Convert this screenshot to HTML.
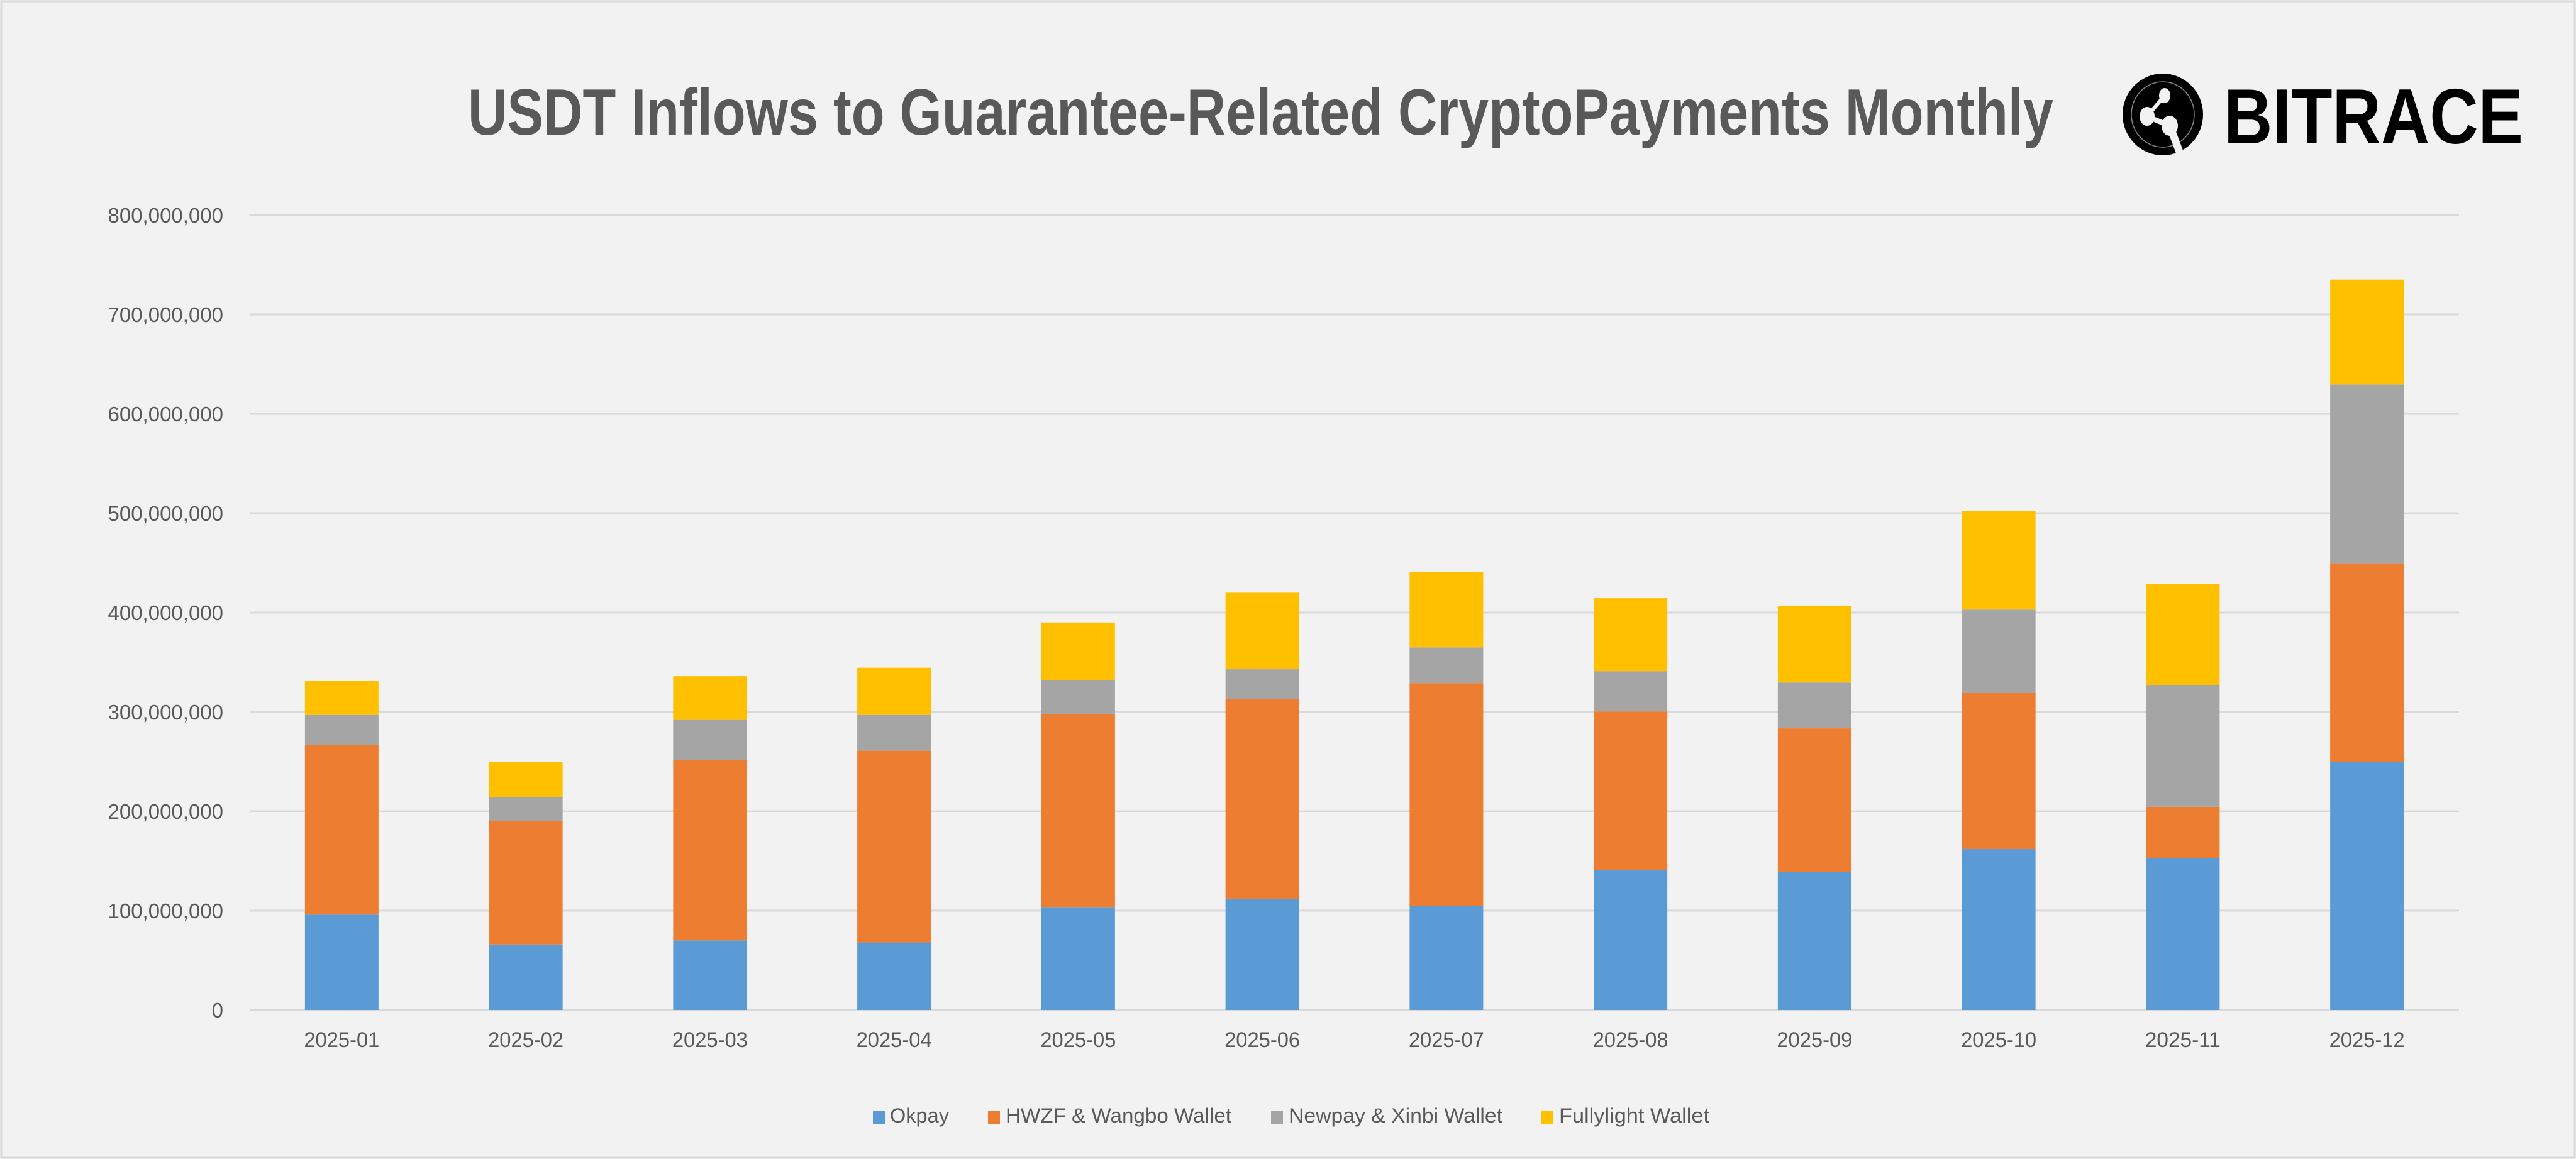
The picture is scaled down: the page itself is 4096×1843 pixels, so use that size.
<!DOCTYPE html>
<html><head><meta charset="utf-8"><style>
html,body{margin:0;padding:0;background:#f2f2f2;}
svg{display:block;}
text{font-family:"Liberation Sans",sans-serif;fill:#595959;}
</style></head><body>
<svg width="4096" height="1843" viewBox="0 0 4096 1843" xmlns="http://www.w3.org/2000/svg">
<rect x="0" y="0" width="4096" height="1843" fill="#f2f2f2"/>
<rect x="2" y="2" width="4092" height="1839" fill="none" stroke="#d9d9d9" stroke-width="3"/>
<text x="744" y="214" font-size="104" font-weight="bold" textLength="2521" lengthAdjust="spacingAndGlyphs">USDT Inflows to Guarantee-Related CryptoPayments Monthly</text>
<!-- logo -->
<ellipse cx="3439" cy="182" rx="64" ry="65" fill="#000"/>
<ellipse cx="3439" cy="182" rx="50" ry="52" fill="none" stroke="#888" stroke-width="1.5"/>
<g fill="#f2f2f2">
<ellipse cx="3442" cy="152" rx="9" ry="12"/>
<ellipse cx="3414" cy="185" rx="12" ry="15"/>
<ellipse cx="3450" cy="200" rx="13" ry="16"/>
<line x1="3442" y1="152" x2="3414" y2="185" stroke="#f2f2f2" stroke-width="6"/>
<line x1="3414" y1="185" x2="3450" y2="200" stroke="#f2f2f2" stroke-width="8"/>
<line x1="3452" y1="205" x2="3468" y2="248" stroke="#f2f2f2" stroke-width="12"/>
</g>
<text x="3536" y="228" font-size="124" font-weight="bold" style="fill:#000" textLength="476" lengthAdjust="spacingAndGlyphs">BITRACE</text>
<!-- grid -->
<g stroke="#d9d9d9" stroke-width="3">
<line x1="397" x2="3910" y1="342" y2="342"/>
<line x1="397" x2="3910" y1="500" y2="500"/>
<line x1="397" x2="3910" y1="658" y2="658"/>
<line x1="397" x2="3910" y1="816" y2="816"/>
<line x1="397" x2="3910" y1="974" y2="974"/>
<line x1="397" x2="3910" y1="1132" y2="1132"/>
<line x1="397" x2="3910" y1="1290" y2="1290"/>
<line x1="397" x2="3910" y1="1448" y2="1448"/>
<line x1="397" x2="3910" y1="1606" y2="1606"/>
</g>
<g font-size="33" text-anchor="end">
<text x="355" y="354">800,000,000</text>
<text x="355" y="512">700,000,000</text>
<text x="355" y="670">600,000,000</text>
<text x="355" y="828">500,000,000</text>
<text x="355" y="986">400,000,000</text>
<text x="355" y="1144">300,000,000</text>
<text x="355" y="1302">200,000,000</text>
<text x="355" y="1460">100,000,000</text>
<text x="355" y="1618">0</text>
</g>
<g id="bars"></g>
<g id="xl" font-size="34" text-anchor="middle"></g>
<!-- legend -->
<rect x="1388" y="1767" width="19" height="20" fill="#5b9bd5"/>
<text x="1415" y="1785" font-size="32" textLength="94" lengthAdjust="spacingAndGlyphs">Okpay</text>
<rect x="1571" y="1767" width="19" height="20" fill="#ed7d31"/>
<text x="1599" y="1785" font-size="32" textLength="359" lengthAdjust="spacingAndGlyphs">HWZF &amp; Wangbo Wallet</text>
<rect x="2021" y="1767" width="19" height="20" fill="#a5a5a5"/>
<text x="2049" y="1785" font-size="32" textLength="340" lengthAdjust="spacingAndGlyphs">Newpay &amp; Xinbi Wallet</text>
<rect x="2451" y="1767" width="19" height="20" fill="#ffc000"/>
<text x="2479" y="1785" font-size="32" textLength="239" lengthAdjust="spacingAndGlyphs">Fullylight Wallet</text>
</svg>
<script>
var d=[[96,267,297,331],[66,190,214,250],[70,251.5,292,336],[68,261,297,344.5],[103,298,332,390],[112,313,343,420],[105,329,365,440.5],[141,300.5,341,414.5],[139,283.5,329.6,407],[162,319,403,502],[153,204.6,327,429],[250,449,629.5,735]];
var c=["#5b9bd5","#ed7d31","#a5a5a5","#ffc000"];
var ns="http://www.w3.org/2000/svg",g=document.getElementById("bars"),xl=document.getElementById("xl");
function Y(v){return 1606-v*1.58;}
d.forEach(function(r,i){var cx=397+292.75*(i+0.5),prev=0;
r.forEach(function(v,j){var e=document.createElementNS(ns,"rect");e.setAttribute("x",cx-58.5);e.setAttribute("width",117);e.setAttribute("y",Y(v));e.setAttribute("height",Y(prev)-Y(v));e.setAttribute("fill",c[j]);g.appendChild(e);prev=v;});
var t=document.createElementNS(ns,"text");t.setAttribute("x",cx);t.setAttribute("y",1665);t.setAttribute("textLength",120);t.setAttribute("lengthAdjust","spacingAndGlyphs");t.textContent="2025-"+(i<9?"0":"")+(i+1);xl.appendChild(t);});
</script>
</body></html>
